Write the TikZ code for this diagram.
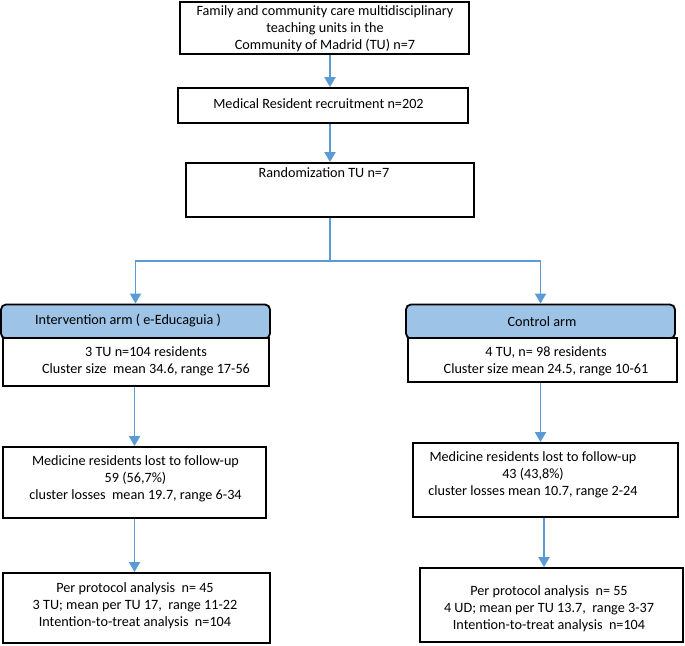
\documentclass[tikz,border=0pt]{standalone}
\usepackage{fontspec}
\setmainfont{Carlito}
\usetikzlibrary{arrows.meta}
\definecolor{arrowblue}{HTML}{5B9BD5}
\definecolor{headblue}{HTML}{9DC3E6}
\begin{document}
\begin{tikzpicture}[x=1pt,y=-1pt,
  box/.style={draw=black, line width=1.8pt, fill=white, inner sep=0pt},
  headbox/.style={draw=black, line width=1.8pt, fill=headblue, inner sep=0pt, rounded corners=5pt},
  txt/.style={inner sep=0pt, align=center, font=\fontsize{14.2}{16.8}\selectfont},
  arr/.style={draw=arrowblue, line width=1.9pt, -{Triangle[width=11pt,length=10pt]}},
  conn/.style={draw=arrowblue, line width=1.9pt}
]
\useasboundingbox (0,0) rectangle (685,645);

% boxes
\node[box, minimum width=289pt, minimum height=52pt] (top) at (324.5,28) {};
\node[box, minimum width=290pt, minimum height=35pt] (recruit) at (323,105.5) {};
\node[box, minimum width=288pt, minimum height=54pt] (rand) at (330,190) {};

\node[headbox, minimum width=269pt, minimum height=34pt] (ihead) at (135.5,321.5) {};
\node[box, minimum width=266pt, minimum height=48pt] (ibody) at (136,362) {};
\node[headbox, minimum width=269pt, minimum height=34pt] (chead) at (540.5,321.5) {};
\node[box, minimum width=269pt, minimum height=44pt] (cbody) at (542.5,360) {};

\node[box, minimum width=263pt, minimum height=71pt] (ilost) at (134.5,482.5) {};
\node[box, minimum width=265pt, minimum height=74pt] (clost) at (545.5,480) {};

\node[box, minimum width=267pt, minimum height=70pt] (ipp) at (136.5,608) {};
\node[box, minimum width=263pt, minimum height=74pt] (cpp) at (551.5,605) {};

% texts
\node[txt] (ttop) at (325,29) {Family and community care multidisciplinary\\teaching units in the\\Community of Madrid (TU) n=7};
\node[txt] (trecruit) at (318.5,104) {Medical Resident recruitment n=202};
\node[txt] (trand) at (324,173) {Randomization TU n=7};
\node[txt] (tihead) at (128,320.5) {Intervention arm ( e-Educaguia )};
\node[txt] (tibody) at (146,361.5) {3 TU n=104 residents\\Cluster size\ \ mean 34.6, range 17-56};
\node[txt] (tchead) at (542,322) {Control arm};
\node[txt] (tcbody) at (546,361.5) {4 TU, n= 98 residents\\Cluster size mean 24.5, range 10-61};
\node[txt] (tilost) at (135.5,479) {Medicine residents lost to follow-up\\59 (56,7\%)\\cluster losses\ \ mean 19.7, range 6-34};
\node[txt] (tclost) at (533,475) {Medicine residents lost to follow-up\\43 (43,8\%)\\cluster losses mean 10.7, range 2-24};
\node[txt] (tipp) at (135,606) {Per protocol analysis\ \ n= 45\\3 TU; mean per TU 17,\ \ range 11-22\\Intention-to-treat analysis\ \ n=104};
\node[txt] (tcpp) at (549,608.5) {Per protocol analysis\ \ n= 55\\4 UD; mean per TU 13.7,\ \ range 3-37\\Intention-to-treat analysis\ \ n=104};

% connectors
\coordinate (split) at (330,261);
\draw[arr] (rand.north |- top.south) -- (rand.north |- recruit.north);
\draw[arr] (rand.north |- recruit.south) -- (rand.north);
\draw[conn] (rand.south) -- (split);
\draw[arr] (split) -| (ihead.north);
\draw[arr] (split) -| (chead.north);
\draw[arr] (ilost.north |- ibody.south) -- (ilost.north);
\draw[arr] ([xshift=-2pt]cbody.south) -- ([xshift=-2pt]cbody.south |- clost.north);
\draw[arr] (ilost.south) -- (ilost.south |- ipp.north);
\draw[arr] ([xshift=-1.5pt]clost.south) -- ([xshift=-1.5pt]clost.south |- cpp.north);
\end{tikzpicture}
\end{document}
